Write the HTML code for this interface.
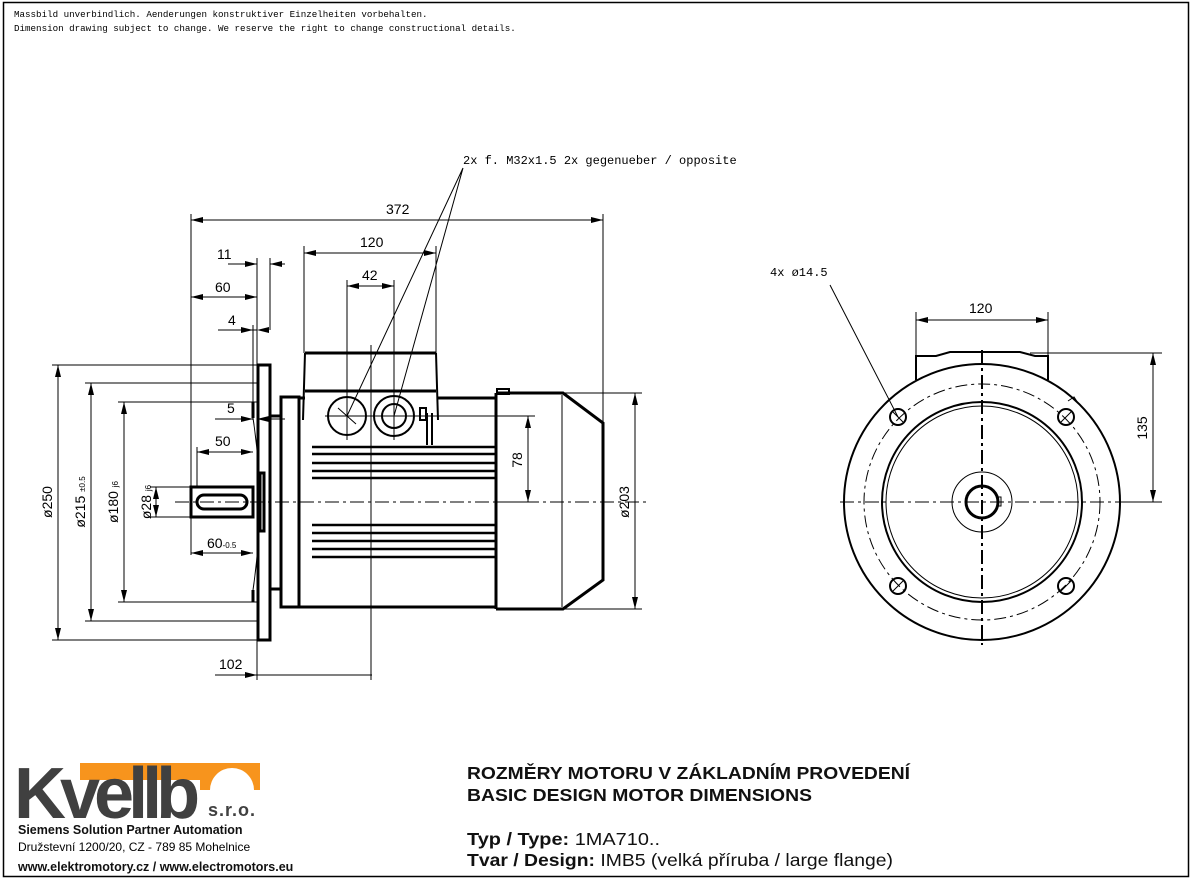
<!DOCTYPE html>
<html><head><meta charset="utf-8"><style>
html,body{margin:0;padding:0;background:#fff}
svg{display:block}
.t{font-family:"Liberation Sans",sans-serif;font-size:14px;fill:#000}
.m{font-family:"Liberation Mono",monospace;font-size:9.2px;fill:#000}
.thick{stroke:#000;stroke-width:3;fill:none}
.thin{stroke:#000;stroke-width:1;fill:none}
.cl{stroke:#000;stroke-width:1;fill:none;stroke-dasharray:14 4 3 4}
.b{font-family:"Liberation Sans",sans-serif;font-weight:bold;fill:#111}
</style></head><body>
<svg width="1196" height="882" viewBox="0 0 1196 882" xmlns="http://www.w3.org/2000/svg">
<defs>
<marker id="a" viewBox="0 0 12 6" refX="12" refY="3" markerWidth="12" markerHeight="6" orient="auto-start-reverse" markerUnits="userSpaceOnUse"><path d="M0,0 L12,3 L0,6z" fill="#000"/></marker>
</defs>
<rect x="3.5" y="2.5" width="1185" height="874" fill="none" stroke="#000" stroke-width="1.5"/>
<text class="m" x="14" y="17">Massbild unverbindlich. Aenderungen konstruktiver Einzelheiten vorbehalten.</text>
<text class="m" x="14" y="31">Dimension drawing subject to change. We reserve the right to change constructional details.</text>

<line class="cl" x1="175" y1="502" x2="650" y2="502"/>
<line class="thin" x1="371" y1="345" x2="371" y2="680"/>
<rect class="thick" x="258" y="365" width="12" height="275"/>
<path class="thick" d="M253,402 V418 M253,590 V602"/>
<path class="thin" d="M253,402 H258 M253,602 H258 M253,418 Q266,502 253,590"/>
<rect class="thick" x="191" y="487" width="62" height="30"/>
<rect class="thick" x="197" y="495" width="50" height="14" rx="7"/>
<rect class="thick" x="260" y="473" width="4" height="58"/>
<path class="thick" d="M270,416 H281 M270,589 H281"/>
<rect class="thick" x="281" y="397" width="18" height="210"/>
<path class="thick" d="M299,607 H496 M437,398 H496 M299,398 H305"/>
<path class="thick" d="M305,353 H436 M305,391 H436"/>
<path class="thick" d="M305,353 L303,420 M436,353 L438,420" style="stroke-width:2"/>
<circle class="thick" cx="347" cy="416" r="19" style="stroke-width:2"/>
<circle class="thick" cx="394" cy="416" r="20" style="stroke-width:2"/>
<circle class="thick" cx="394" cy="416" r="12" style="stroke-width:2"/>
<path class="thin" d="M325,416 H440 M347,393 V440 M394,393 V440 M338,408 L356,424"/>
<rect class="thick" x="420" y="408" width="6" height="12" style="stroke-width:2"/>
<path class="thick" d="M427,413 V445 M432,413 V445" style="stroke-width:2"/>
<path class="thick" d="M312,447 H496 M312,454 H496 M312,463 H496 M312,471 H496 M312,478 H496 M312,525 H496 M312,533 H496 M312,541 H496 M312,549 H496 M312,557 H496" style="stroke-width:2.5"/>
<path class="thick" d="M496,393 V609 M496,393 H563 L603,423 V580 L563,609 H496"/>
<line class="thin" x1="562" y1="395" x2="562" y2="607"/>
<rect class="thick" x="497" y="389" width="12" height="5" style="stroke-width:2"/>

<g class="thin" marker-start="url(#a)" marker-end="url(#a)">
<line x1="58" y1="365" x2="58" y2="640"/>
<line x1="91" y1="383" x2="91" y2="621"/>
<line x1="124" y1="402" x2="124" y2="602"/>
<line x1="156" y1="487" x2="156" y2="517"/>
<line x1="191" y1="297" x2="257" y2="297"/>
<line x1="197" y1="452" x2="253" y2="452"/>
<line x1="191" y1="553" x2="253" y2="553"/>
<line x1="191" y1="220" x2="603" y2="220"/>
<line x1="304" y1="253" x2="436" y2="253"/>
<line x1="347" y1="286" x2="394" y2="286"/>
<line x1="528" y1="416" x2="528" y2="502"/>
<line x1="635" y1="393" x2="635" y2="609"/>
</g>
<g class="thin">
<path d="M52,365 H258 M85,383 H258 M118,402 H253 M150,487 H191 M150,517 H191 M52,640 H258 M85,621 H258 M118,602 H253"/>
<path d="M191,214 V555 M257,258 V680 M270,258 V330 M253,325 V420 M304,246 V353 M436,246 V353 M347,280 V400 M394,280 V400 M603,214 V423 M197,447 V487"/>
<path d="M440,416 H535 M496,502 H535 M565,393 H642 M565,609 H642"/>
<path d="M228,264 H257 M270,264 H285 M218,330 H253 M257,330 H245" />
<path d="M215,419 H253 M270,419 H285 M215,675 H257 M257,675 H372"/>
<path d="M463,168 L347,416 M463,168 L394,416"/>
</g>
<g fill="#000">
<path d="M257,264 l-12,-3 v6z M270,264 l12,-3 v6z M253,330 l-12,-3 v6z M257,330 l12,-3 v6z M253,419 l-12,-3 v6z M257,419 l12,-3 v6z M257,675 l-12,-3 v6z"/>
</g>
<g class="t">
<text x="217" y="259">11</text>
<text x="215" y="292">60</text>
<text x="228" y="325">4</text>
<text x="227" y="413">5</text>
<text x="215" y="446">50</text>
<text x="207" y="548">60<tspan font-size="8">-0.5</tspan></text>
<text x="219" y="669">102</text>
<text x="386" y="214">372</text>
<text x="360" y="247">120</text>
<text x="362" y="280">42</text>
<text x="463" y="164" class="m" style="font-size:12px">2x f. M32x1.5  2x gegenueber / opposite</text>
<text transform="translate(52,502) rotate(-90)" text-anchor="middle">ø250</text>
<text transform="translate(85,502) rotate(-90)" text-anchor="middle">ø215 <tspan font-size="8">±0.5</tspan></text>
<text transform="translate(118,502) rotate(-90)" text-anchor="middle">ø180 <tspan font-size="8">j6</tspan></text>
<text transform="translate(151,502) rotate(-90)" text-anchor="middle">ø28 <tspan font-size="8">j6</tspan></text>
<text transform="translate(522,460) rotate(-90)" text-anchor="middle">78</text>
<text transform="translate(629,502) rotate(-90)" text-anchor="middle">ø203</text>
</g>

<g>
<path class="thick" d="M916,380 V356 H936 L950,352 H1020 L1035,356 H1048 V380" style="stroke-width:2"/>
<circle class="thick" cx="982" cy="502" r="138" style="stroke-width:2"/>
<circle class="thin" cx="982" cy="502" r="118" stroke-dasharray="12 4 3 4"/>
<circle class="thick" cx="982" cy="502" r="100" style="stroke-width:2"/>
<circle class="thin" cx="982" cy="502" r="96"/>
<circle class="thin" cx="982" cy="502" r="30"/>
<circle class="thick" cx="982" cy="502" r="16"/>
<rect class="thin" x="997" y="497" width="4" height="9"/>
<g class="thick" style="stroke-width:2">
<circle cx="898" cy="417" r="8"/><circle cx="1066" cy="417" r="8"/>
<circle cx="898" cy="586" r="8"/><circle cx="1066" cy="586" r="8"/>
</g>
<path class="thin" d="M893,412 L903,422 M1061,422 L1071,412 M893,591 L903,581 M1061,591 L1071,581"/>
<path class="thin" d="M1068,401 l6,-4 l4,6" />
<line x1="840" y1="502" x2="1125" y2="502" class="cl"/>
<line x1="982" y1="350" x2="982" y2="645" stroke="#000" stroke-width="2" stroke-dasharray="14 4 3 4"/>
<path class="thin" d="M916,312 V356 M1048,312 V380 M1030,353 H1162 M1125,502 H1162 M830,285 L898,417"/>
<g class="thin" marker-start="url(#a)" marker-end="url(#a)">
<line x1="916" y1="320" x2="1048" y2="320"/>
<line x1="1153" y1="353" x2="1153" y2="502"/>
</g>
<text class="t" x="969" y="313">120</text>
<text class="t" transform="translate(1147,428) rotate(-90)" text-anchor="middle">135</text>
<text class="m" x="770" y="276" style="font-size:12px">4x ø14.5</text>
</g>

<path d="M80,763 H260 V790 H254 A22,22 0 0 0 210,790 H200 V780 H80z" fill="#f7941d"/>
<text class="b" x="14" y="818" style="font-size:72px;fill:#404040" letter-spacing="-6">Kvellb</text>
<text class="b" x="208" y="816" style="font-size:18px;fill:#404040" letter-spacing="1">s.r.o.</text>
<text class="b" x="18" y="834" style="font-size:12.5px">Siemens Solution Partner Automation</text>
<text x="18" y="851" style="font-family:'Liberation Sans',sans-serif;font-size:12px">Družstevní 1200/20, CZ - 789 85 Mohelnice</text>
<text class="b" x="18" y="871" style="font-size:12.5px">www.elektromotory.cz / www.electromotors.eu</text>

<g class="b" style="font-size:17.5px">
<text x="467" y="779" textLength="443" lengthAdjust="spacingAndGlyphs">ROZMĚRY MOTORU V ZÁKLADNÍM PROVEDENÍ</text>
<text x="467" y="801" textLength="345" lengthAdjust="spacingAndGlyphs">BASIC DESIGN MOTOR DIMENSIONS</text>
<text x="467" y="845" textLength="193" lengthAdjust="spacingAndGlyphs">Typ / Type: <tspan font-weight="normal">1MA710..</tspan></text>
<text x="467" y="866" textLength="426" lengthAdjust="spacingAndGlyphs">Tvar / Design: <tspan font-weight="normal">IMB5 (velká příruba / large flange)</tspan></text>
</g>
</svg>
</body></html>
